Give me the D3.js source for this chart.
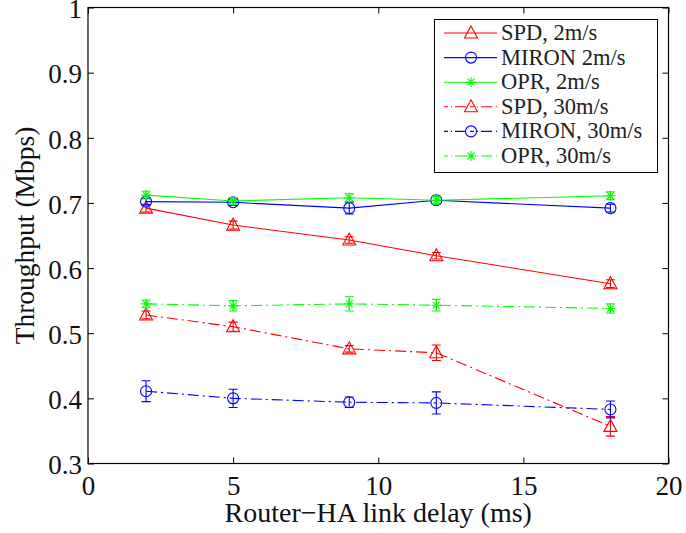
<!DOCTYPE html>
<html>
<head>
<meta charset="utf-8">
<script src="https://cdn.jsdelivr.net/npm/d3@7"></script>
<style>
  body { margin: 0; background: #fff; }
  text { font-family: "Liberation Serif", "Times New Roman", serif; }
</style>
</head>
<body>
<svg id="chart" width="686" height="533"></svg>
<script>
// delays (ms)
var delays = [2, 5, 9, 12, 18];

// throughput means and error half-widths
var spd2 = [0.692, 0.666, 0.643, 0.619, 0.576];
var spd2Err = [0.006, 0.006, 0.005, 0.005, 0.006];
var miron2 = [0.702, 0.701, 0.692, 0.704, 0.692];
var miron2Err = [0.005, 0.005, 0.009, 0.006, 0.006];
var opr2 = [0.712, 0.703, 0.708, 0.704, 0.711];
var opr2Err = [0.006, 0.005, 0.006, 0.006, 0.006];
var spd30 = [0.528, 0.510, 0.476, 0.470, 0.357];
var spd30Err = [0.006, 0.007, 0.005, 0.012, 0.015];
var miron30 = [0.411, 0.400, 0.394, 0.393, 0.383];
var miron30Err = [0.016, 0.014, 0.008, 0.017, 0.013];
var opr30 = [0.545, 0.542, 0.545, 0.543, 0.538];
var opr30Err = [0.006, 0.008, 0.011, 0.009, 0.007];

var seriesNames = ["SPD, 2m/s", "MIRON 2m/s", "OPR, 2m/s", "SPD, 30m/s", "MIRON, 30m/s", "OPR, 30m/s"];
var xTicks = [0, 5, 10, 15, 20];
var yTicks = [0.3, 0.4, 0.5, 0.6, 0.7, 0.8, 0.9, 1];

var series = [
  {name: seriesNames[0], y: spd2, e: spd2Err, color: "#ff0000", marker: "tri", dash: null},
  {name: seriesNames[1], y: miron2, e: miron2Err, color: "#0000ff", marker: "circle", dash: null},
  {name: seriesNames[2], y: opr2, e: opr2Err, color: "#00ff00", marker: "star", dash: null},
  {name: seriesNames[3], y: spd30, e: spd30Err, color: "#ff0000", marker: "tri", dash: "11,4,2,4"},
  {name: seriesNames[4], y: miron30, e: miron30Err, color: "#0000ff", marker: "circle", dash: "11,4,2,4"},
  {name: seriesNames[5], y: opr30, e: opr30Err, color: "#00ff00", marker: "star", dash: "11,4,2,4"}
];

var svg = d3.select("#chart");
var L = 88, T = 7.5, R = 668.5, B = 463.5;

var x = d3.scaleLinear().domain([0, 20]).range([L, R]);
var y = d3.scaleLinear().domain([0.3, 1]).range([B, T]);

// frame
svg.append("rect").attr("x", L).attr("y", T).attr("width", R - L).attr("height", B - T)
  .attr("fill", "none").attr("stroke", "#000").attr("stroke-width", 1.2);

// axes with inward ticks, mirrored on top/right
var tk = 6;
svg.append("g").attr("transform", "translate(0," + B + ")")
  .call(d3.axisBottom(x).tickValues(xTicks).tickSizeInner(-tk).tickSizeOuter(0).tickPadding(12).tickFormat(d3.format("d")));
svg.append("g").attr("transform", "translate(0," + T + ")")
  .call(d3.axisTop(x).tickValues(xTicks).tickSizeInner(-tk).tickSizeOuter(0).tickFormat(""));
svg.append("g").attr("class", "yax").attr("transform", "translate(" + L + ",0)")
  .call(d3.axisLeft(y).tickValues(yTicks).tickSizeInner(-tk).tickSizeOuter(0).tickPadding(6).tickFormat(function(d) { return d === 1 ? "1" : d3.format(".1f")(d); }));
svg.append("g").attr("transform", "translate(" + R + ",0)")
  .call(d3.axisRight(y).tickValues(yTicks).tickSizeInner(-tk).tickSizeOuter(0).tickFormat(""));

svg.selectAll(".domain").remove();
svg.selectAll(".tick line").attr("stroke", "#000").attr("stroke-width", 1);
svg.selectAll(".tick text").attr("font-size", 27).attr("fill", "#111")
  .style("font-family", "'Liberation Serif', serif");
svg.selectAll(".yax .tick text").attr("dy", "0.38em");

// axis labels
svg.append("text").attr("x", (L + R) / 2).attr("y", 522).attr("text-anchor", "middle")
  .attr("font-size", 28).attr("fill", "#111").text("Router\u2212HA link delay (ms)");
svg.append("text").attr("transform", "translate(34," + ((T + B) / 2) + ") rotate(-90)")
  .attr("text-anchor", "middle").attr("font-size", 27.5).attr("fill", "#111").text("Throughput (Mbps)");

function drawMarker(g, type, color) {
  if (type === "tri") {
    g.append("path").attr("d", "M0,-7L6.5,5L-6.5,5Z").attr("fill", "none").attr("stroke", color).attr("stroke-width", 1.1);
  } else if (type === "circle") {
    g.append("circle").attr("r", 5.5).attr("fill", "none").attr("stroke", color).attr("stroke-width", 1.1);
  } else {
    var s = 5;
    g.append("path").attr("d", "M" + (-s) + ",0H" + s + "M0," + (-s) + "V" + s +
      "M" + (-s * 0.7) + "," + (-s * 0.7) + "L" + (s * 0.7) + "," + (s * 0.7) +
      "M" + (-s * 0.7) + "," + (s * 0.7) + "L" + (s * 0.7) + "," + (-s * 0.7))
      .attr("stroke", color).attr("stroke-width", 1.1).attr("fill", "none");
  }
}

var line = d3.line().x(function(d) { return x(d[0]); }).y(function(d) { return y(d[1]); });

series.forEach(function(s) {
  var pts = delays.map(function(d, i) { return [d, s.y[i], s.e[i]]; });
  var g = svg.append("g");
  g.append("path").datum(pts).attr("d", line).attr("fill", "none")
    .attr("stroke", s.color).attr("stroke-width", 1.1)
    .attr("stroke-dasharray", s.dash);
  // error bars
  var cap = 4.5;
  pts.forEach(function(p) {
    var cx = x(p[0]), y0 = y(p[1] - p[2]), y1 = y(p[1] + p[2]);
    g.append("path").attr("d", "M" + cx + "," + y0 + "V" + y1 +
      "M" + (cx - cap) + "," + y0 + "H" + (cx + cap) + "M" + (cx - cap) + "," + y1 + "H" + (cx + cap))
      .attr("stroke", s.color).attr("stroke-width", 1.1).attr("fill", "none");
    var m = g.append("g").attr("transform", "translate(" + cx + "," + y(p[1]) + ")");
    drawMarker(m, s.marker, s.color);
  });
});

// legend
var lg = svg.append("g");
lg.append("rect").attr("x", 434.5).attr("y", 19.5).attr("width", 223).attr("height", 153)
  .attr("fill", "#fff").attr("stroke", "#000").attr("stroke-width", 1);
series.forEach(function(s, i) {
  var cy = 33 + i * 24.6;
  lg.append("line").attr("x1", 444).attr("x2", 497).attr("y1", cy).attr("y2", cy)
    .attr("stroke", s.color).attr("stroke-width", 1.1).attr("stroke-dasharray", s.dash ? "4,3,1,3,11,4" : null);
  var m = lg.append("g").attr("transform", "translate(471," + cy + ")");
  drawMarker(m, s.marker, s.color);
  lg.append("text").attr("x", 501).attr("y", cy + 7).attr("font-size", 22.5)
    .attr("fill", "#222").text(s.name);
});
</script>
</body>
</html>
